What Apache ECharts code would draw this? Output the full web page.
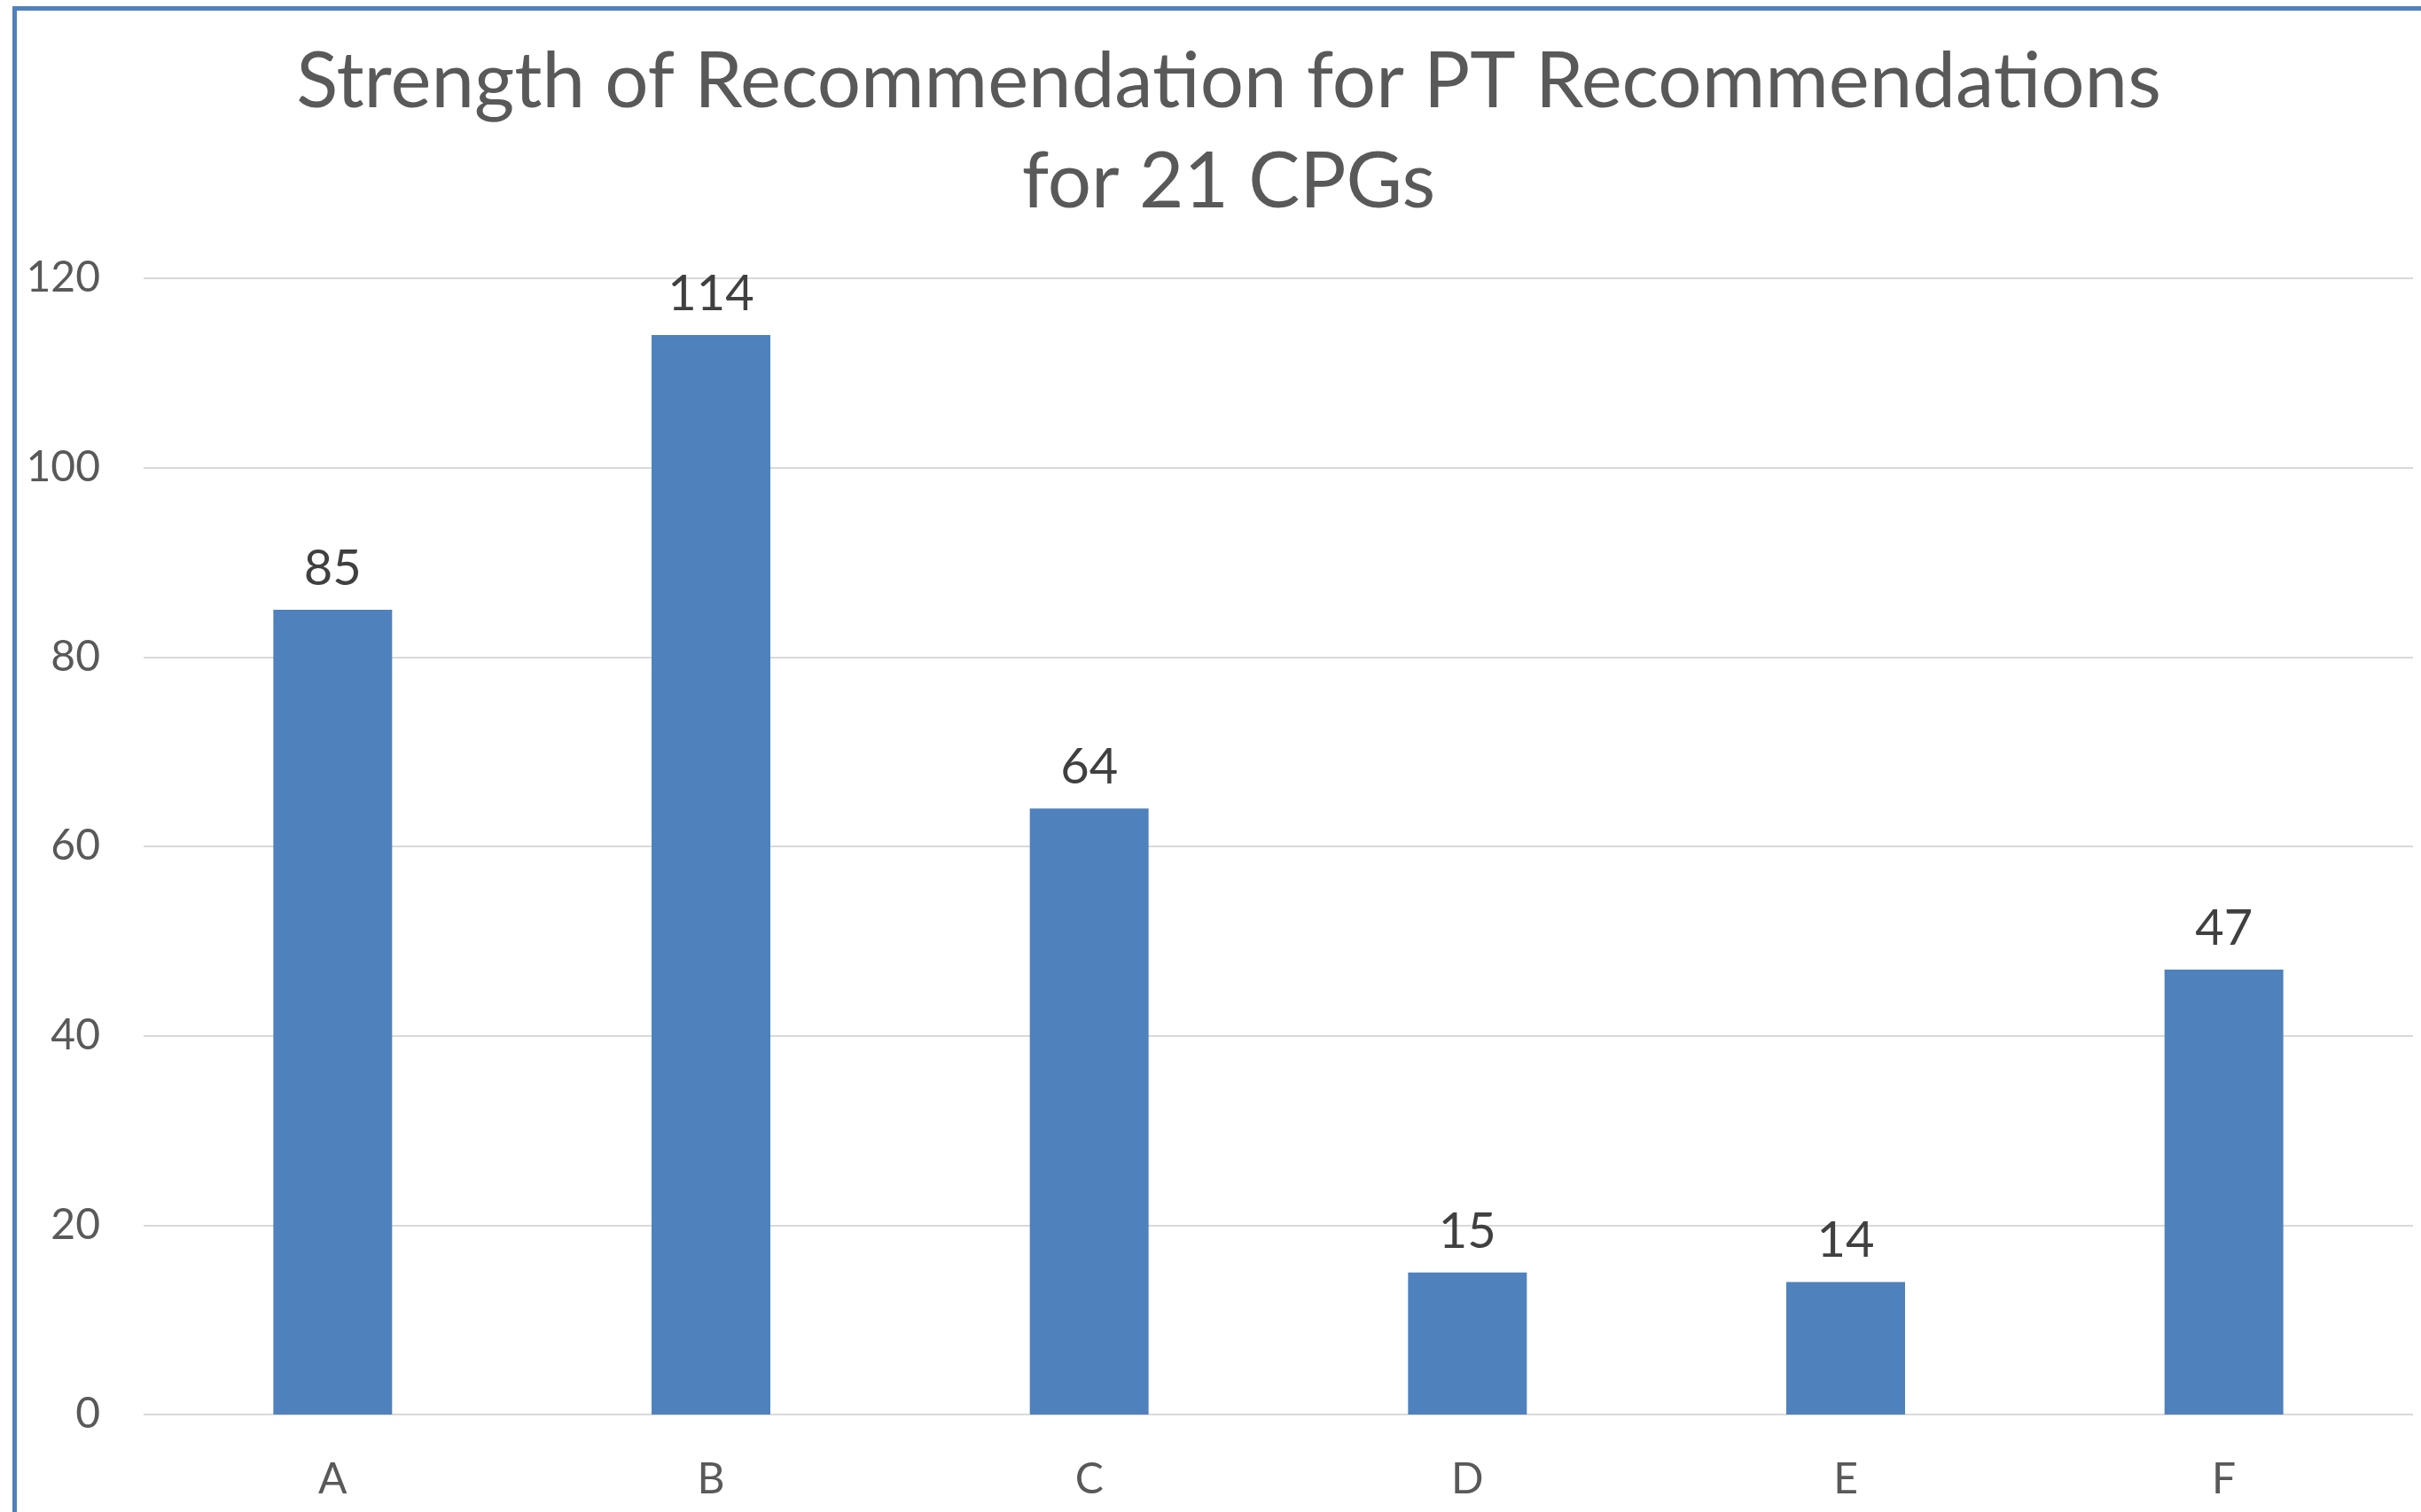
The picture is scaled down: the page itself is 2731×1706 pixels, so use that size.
<!DOCTYPE html>
<html>
<head>
<meta charset="utf-8">
<title>Strength of Recommendation</title>
<script src="https://cdn.jsdelivr.net/npm/echarts@6/dist/echarts.min.js"></script>
<style>
  html, body { margin: 0; padding: 0; background: #fff; overflow: hidden; }
  #chart { position: absolute; left: 0; top: 0; width: 2731px; height: 1706px; }
  /* the Excel chart frame: only its top and left edges are inside the picture */
  .frame {
    position: absolute; left: 14px; top: 7px; width: 2800px; height: 1800px;
    border: 5px solid #4f81bd; pointer-events: none; box-sizing: border-box;
  }
</style>
</head>
<body>
<div id="chart"></div>
<div class="frame"></div>
<script>
const categories = ["A", "B", "C", "D", "E", "F"];
const counts = [85, 114, 64, 15, 14, 47];
const yTicks = [0, 20, 40, 60, 80, 100, 120];

const font = "Lato, 'Open Sans', sans-serif";
const chart = echarts.init(document.getElementById("chart"));

chart.setOption({
  animation: false,
  title: {
    text: "Strength of Recommendation for PT Recommendations\nfor 21 CPGs",
    left: 1381,
    top: 31,
    textAlign: "center",
    textStyle: {
      fontFamily: font,
      fontWeight: "normal",
      fontSize: 87,
      lineHeight: 113,
      color: "#595959"
    }
  },
  grid: { left: 162, right: 9, top: 314, bottom: 110 },
  xAxis: {
    type: "category",
    data: categories,
    axisLine: { show: false },
    axisTick: { show: false },
    axisLabel: { fontFamily: font, fontSize: 48, color: "#595959", margin: 50 }
  },
  yAxis: {
    type: "value",
    min: yTicks[0],
    max: yTicks[yTicks.length - 1],
    interval: yTicks[1] - yTicks[0],
    axisLine: { show: false },
    axisTick: { show: false },
    axisLabel: { fontFamily: font, fontSize: 48, color: "#595959", margin: 49 },
    splitLine: { lineStyle: { color: "#d9d9d9", width: 2 } }
  },
  series: [
    {
      type: "bar",
      data: counts,
      barWidth: "31.4%",
      itemStyle: { color: "#4f81bd" },
      label: {
        show: true,
        position: "top",
        distance: 18,
        fontFamily: font,
        fontSize: 56,
        color: "#404040"
      }
    }
  ]
});
</script>
</body>
</html>
